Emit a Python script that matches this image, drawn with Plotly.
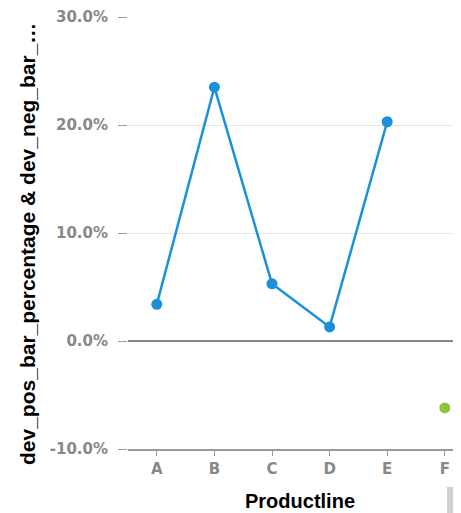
import plotly.graph_objects as go

categories = ["A", "B", "C", "D", "E", "F"]
pos_values = [3.4, 23.5, 5.3, 1.3, 20.3, None]
neg_values = [None, None, None, None, None, -6.2]
y_tick_vals = [-10, 0, 10, 20, 30]
y_tick_text = ["-10.0%", "0.0%", "10.0%", "20.0%", "30.0%"]

fig = go.Figure()
fig.add_trace(go.Scatter(
    x=categories, y=pos_values, mode="lines+markers",
    line=dict(color="#1A90D8", width=2.5),
    marker=dict(color="#1A90D8", size=11),
    connectgaps=False, showlegend=False, cliponaxis=False,
))
fig.add_trace(go.Scatter(
    x=categories, y=neg_values, mode="markers",
    marker=dict(color="#8CC63F", size=11),
    showlegend=False,
))

# page body has an 8px margin, so figure coords = window coords - 8
L, T, B = 120, 9, 72
fig.update_layout(
    width=461, height=513,
    margin=dict(l=L, r=0, t=T, b=B),
    paper_bgcolor="white", plot_bgcolor="white",
    font=dict(family="Liberation Sans, Arial, sans-serif"),
    xaxis=dict(
        type="category", categoryorder="array", categoryarray=categories,
        range=[-0.5, 5.42], automargin=False,
        tickvals=categories, ticktext=["<b>%s</b>" % c for c in categories],
        showgrid=False, showline=True, linecolor="#999999", linewidth=2,
        ticks="outside", ticklen=5, tickcolor="#999999", tickwidth=1,
        tickfont=dict(size=15, color="#888888", family="DejaVu Sans, sans-serif"),
        zeroline=False,
    ),
    yaxis=dict(
        range=[-10, 30], automargin=False,
        tickvals=y_tick_vals, ticktext=["<b>%s</b>" % t for t in y_tick_text],
        showgrid=True, gridcolor="#E6E6E6", gridwidth=1,
        zeroline=True, zerolinecolor="#888888", zerolinewidth=1.5,
        showline=False,
        ticks="outside", ticklen=9, tickcolor="#999999", tickwidth=1,
        ticklabelstandoff=7,
        tickfont=dict(size=15, color="#888888", family="DejaVu Sans, sans-serif"),
    ),
)

plot_w = 461 - L
plot_h = 513 - T - B
fig.add_annotation(text="<b>dev_pos_bar_percentage & dev_neg_bar_…</b>",
                   xref="paper", yref="paper",
                   x=(27 - 8 - L) / plot_w, y=(441 - (244 - 8)) / plot_h,
                   textangle=-90, showarrow=False, xanchor="center", yanchor="middle",
                   font=dict(size=21, color="black"))
fig.add_annotation(text="<b>Productline</b>",
                   xref="paper", yref="paper",
                   x=(300 - 8 - L) / plot_w, y=-(501 - 449) / plot_h,
                   showarrow=False, xanchor="center", yanchor="middle",
                   font=dict(size=20, color="black"))

fig.add_shape(type="rect", xref="paper", yref="paper",
              x0=(447 - 8 - L) / plot_w, x1=1.0,
              y0=-(530 - 449) / plot_h, y1=-(487 - 449) / plot_h,
              fillcolor="#D0D0D0", line=dict(width=0), layer="above")

fig.write_html("out.html")
